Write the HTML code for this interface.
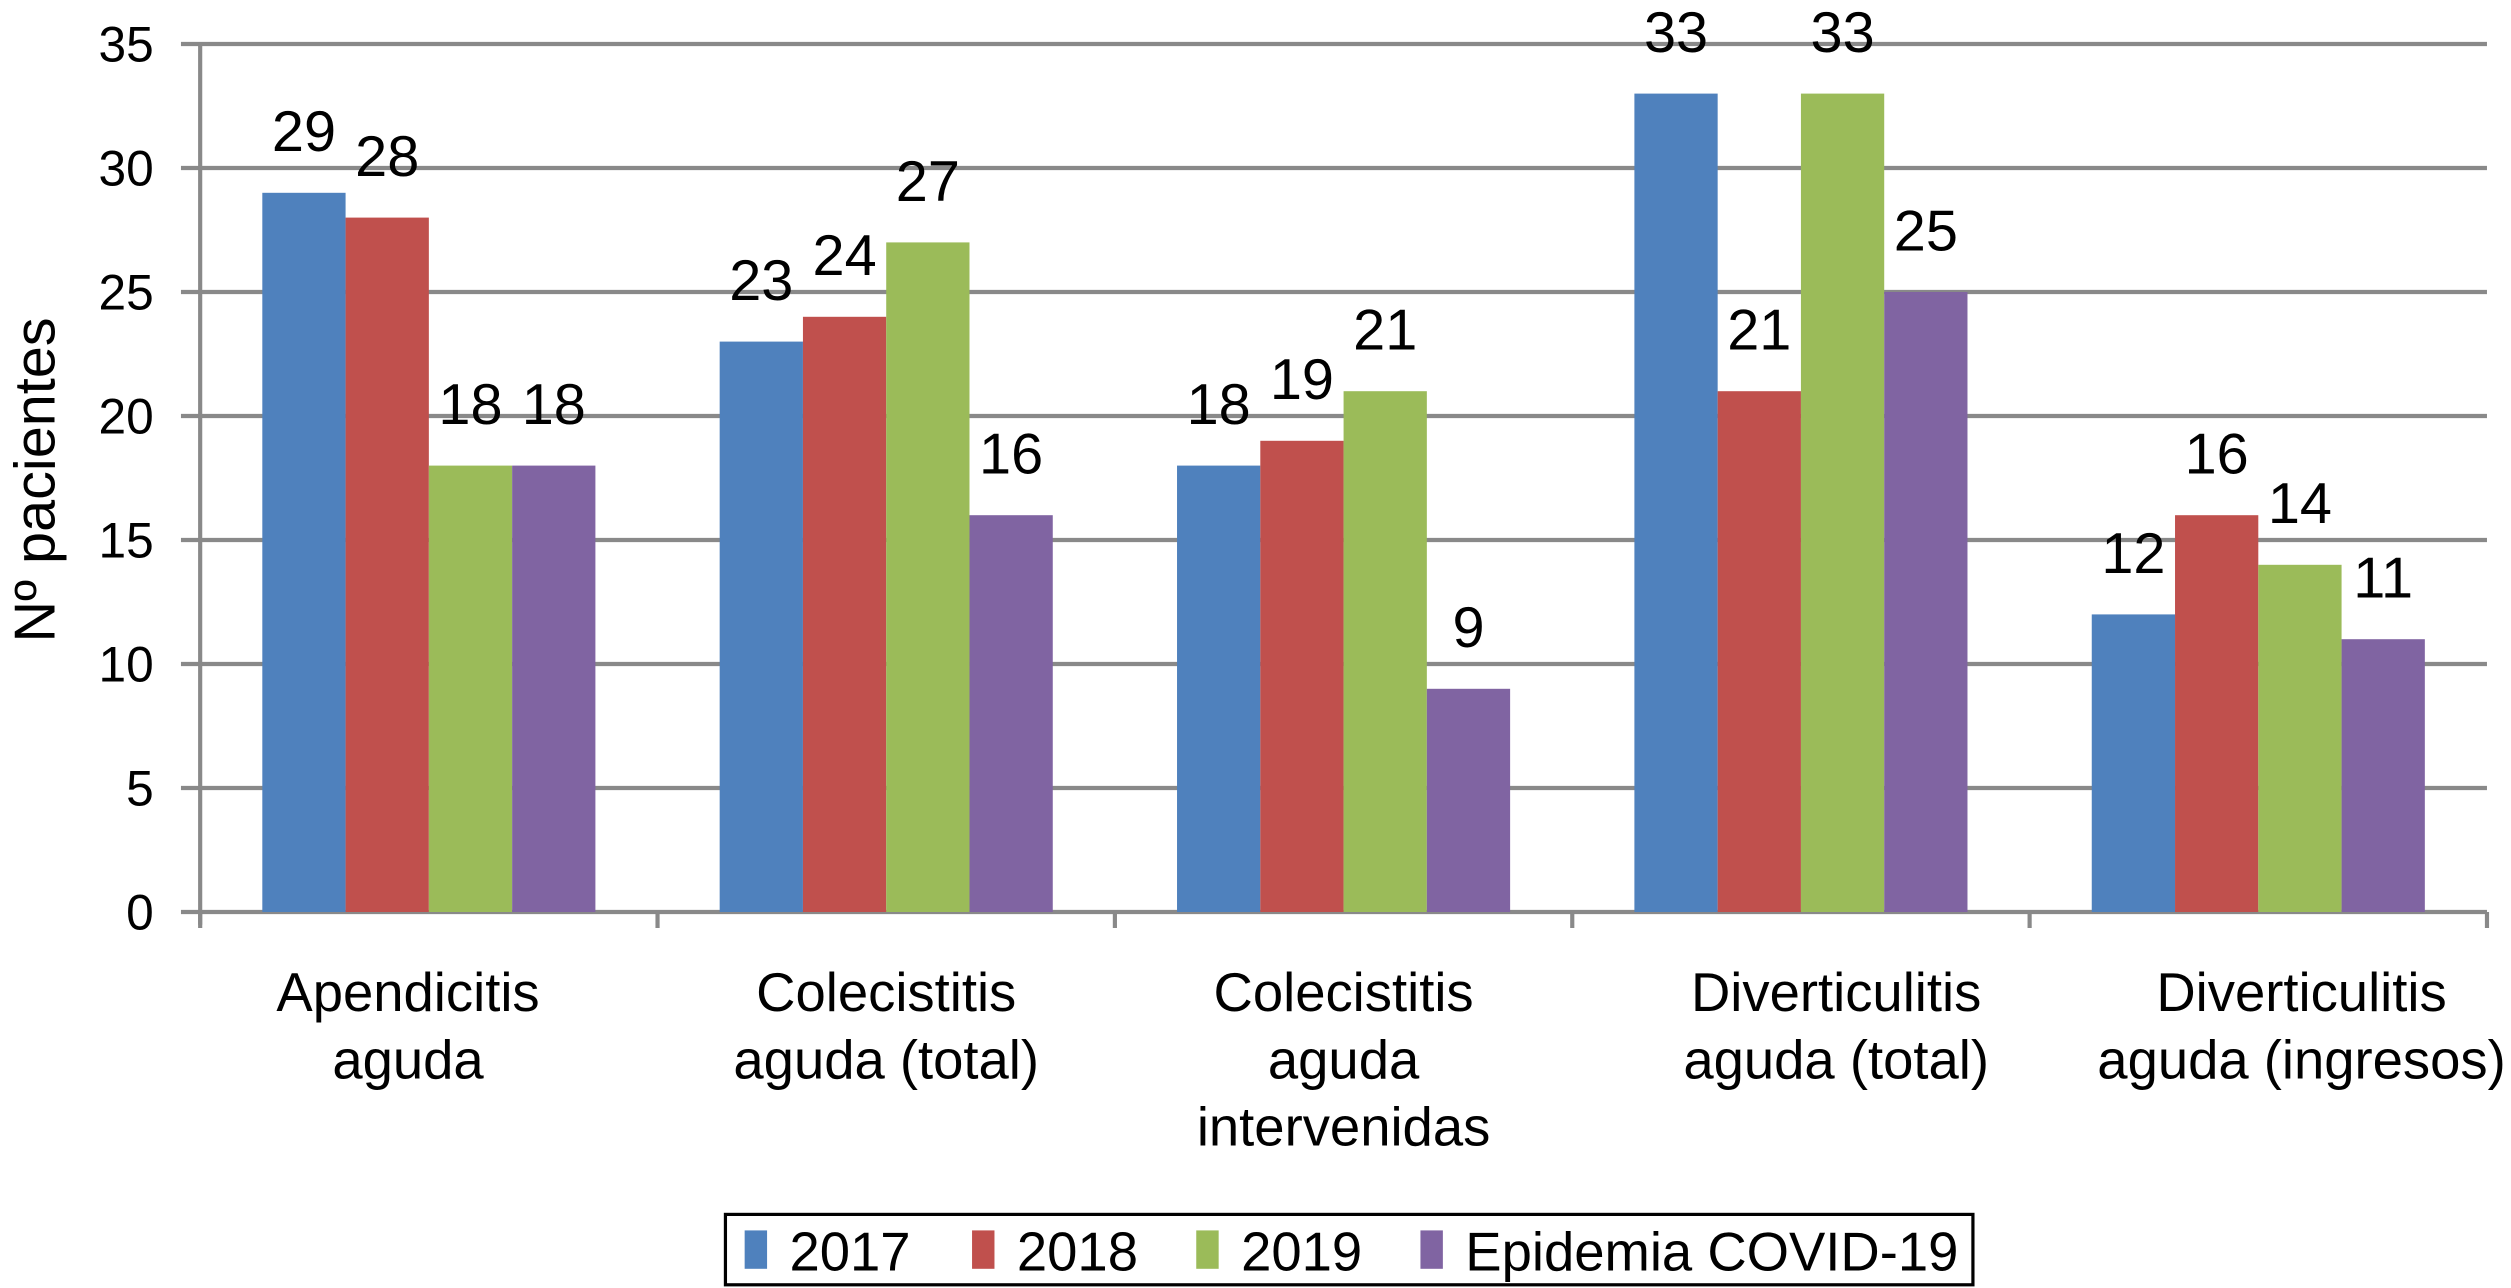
<!DOCTYPE html>
<html><head><meta charset="utf-8"><style>
html,body{margin:0;padding:0;background:#fff;}
svg{display:block;font-family:"Liberation Sans",Arial,sans-serif;}
</style></head><body>
<svg id="chart" width="2511" height="1288" viewBox="0 0 1568 805" preserveAspectRatio="none" xmlns="http://www.w3.org/2000/svg">
<g id="grid"></g>
<g id="bars"></g>
<g id="axes"></g>
<text transform="translate(34,300) rotate(-90)" text-anchor="middle" font-size="36" fill="#000">Nº pacientes</text>
<g id="legend"></g>
</svg>
<script>
const categories = [["Apendicitis","aguda"],["Colecistitis","aguda (total)"],["Colecistitis","aguda","intervenidas"],["Diverticulitis","aguda (total)"],["Diverticulitis","aguda (ingresos)"]];
const seriesNames = ["2017","2018","2019","Epidemia COVID-19"];
const seriesColors = ["#4f81bd","#c0504d","#9bbb59","#8064a2"];
const s2017 = [29,23,18,33,12];
const s2018 = [28,24,19,21,16];
const s2019 = [18,27,21,33,14];
const sCovid = [18,16,9,25,11];
const yTicks = [0,5,10,15,20,25,30,35];
const series = [s2017,s2018,s2019,sCovid];

const NS="http://www.w3.org/2000/svg";
const x0=125, x1=1553, y0=570, yTop=27.5, yMax=35;
const labelShift=[-13,0,0,22,27];
const groupW=(x1-x0)/categories.length, barW=52, gap=(groupW-4*barW)/2;
function y(v){return y0-(v/yMax)*(y0-yTop);}
function xb(ci,si){return x0+ci*groupW+gap+si*barW;}
function mk(tag,attrs,parent){const e=document.createElementNS(NS,tag);for(const k in attrs)e.setAttribute(k,attrs[k]);parent.appendChild(e);return e;}
const grid=document.getElementById('grid'),bars=document.getElementById('bars'),axes=document.getElementById('axes'),legend=document.getElementById('legend');

yTicks.forEach(t=>{
  const l=mk('line',{x1:113,x2:x1,y1:y(t),y2:y(t),stroke:'#898989','stroke-width':2.6},grid);
  
  
  const tx=mk('text',{x:96,y:y(t)+11,'text-anchor':'end','font-size':31,fill:'#000'},axes);
  tx.textContent=t;
  
  
});
const ya=mk('line',{x1:x0,x2:x0,y1:yTop,y2:y0+8,stroke:'#898989','stroke-width':2.6},axes);


for(let i=0;i<=categories.length;i++){
  const tk=mk('line',{x1:x0+i*groupW,x2:x0+i*groupW,y1:y0,y2:y0+10,stroke:'#898989','stroke-width':2.6},axes);
  
  
}
categories.forEach((lines,ci)=>{
  const cx=x0+(ci+0.5)*groupW+labelShift[ci];
  lines.forEach((ln,li)=>{
    const t=mk('text',{x:cx,y:632+li*42,'text-anchor':'middle','font-size':34,fill:'#000'},axes);
    t.textContent=ln;
    
    
  });
  series.forEach((s,si)=>{
    const v=s[ci];
    const r=mk('rect',{x:xb(ci,si),y:y(v),width:barW,height:y0-y(v),fill:seriesColors[si]},bars);
    
    
    const t=mk('text',{x:xb(ci,si)+barW/2,y:y(v)-26,'text-anchor':'middle','font-size':36,fill:'#000'},bars);
    t.textContent=v;
    
    
  });
});
const lb=mk('rect',{x:453,y:759,width:779,height:44,fill:'#fff',stroke:'#000','stroke-width':2},legend);


const lx=[465,607,747,887];
seriesNames.forEach((n,i)=>{
  const g=mk('g',{},legend);
  
  
  mk('rect',{x:lx[i],y:769,width:14,height:24,fill:seriesColors[i]},g);
  const t=mk('text',{x:lx[i]+28,y:794,'font-size':34,fill:'#000'},g);
  t.textContent=n;
});
</script>
</body></html>
